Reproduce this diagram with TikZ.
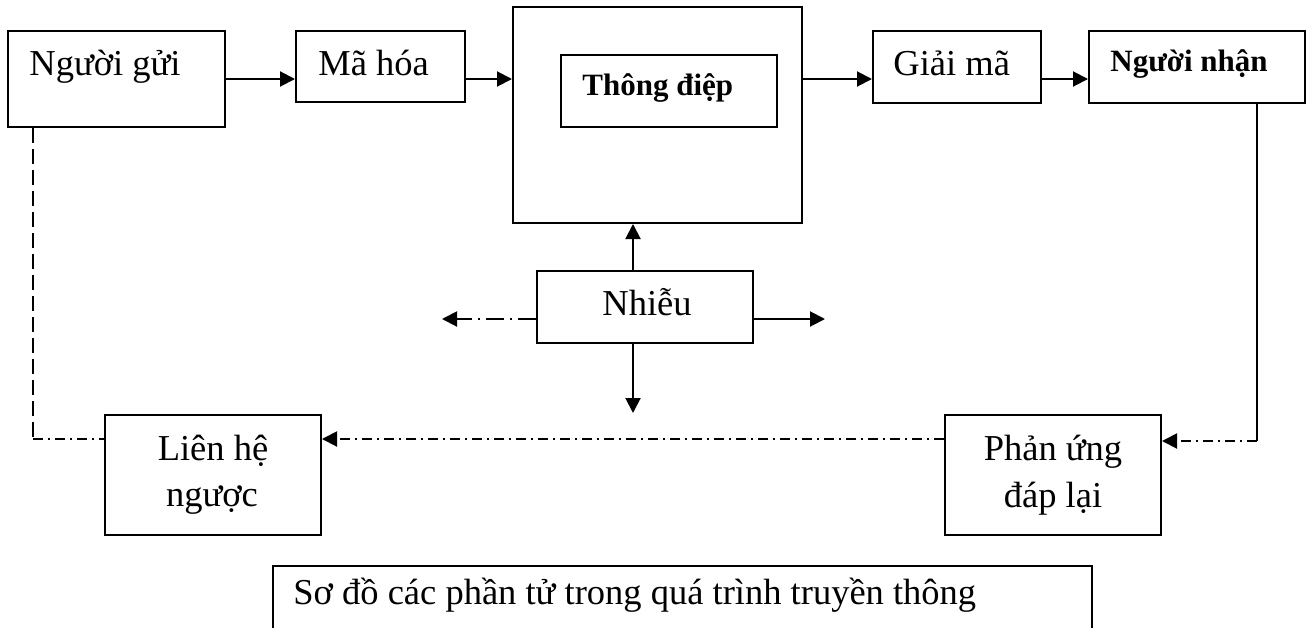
\documentclass[tikz,border=0pt]{standalone}
\usepackage{fontspec}
\setmainfont{Liberation Serif}
\usetikzlibrary{arrows.meta}

\begin{document}
\begin{tikzpicture}[x=0.5pt,y=-0.5pt,
  box/.style={draw, line width=1pt, rectangle, inner sep=0pt},
  txt/.style={inner sep=0pt, font=\fontsize{18.25}{22}\selectfont},
  btxt/.style={inner sep=0pt, font=\fontsize{15.5}{19}\selectfont\bfseries},
  link/.style={line width=1pt},
  arr/.style={link, -{Triangle[length=7.5pt,width=7.5pt]}},
  dashdot/.style={dash pattern=on 5pt off 2.5pt on 1pt off 2.5pt},
  longdashdot/.style={dash pattern=on 9pt off 3pt on 1pt off 3pt},
  longdash/.style={dash pattern=on 7.5pt off 3pt}
]
\useasboundingbox (0,0) rectangle (1310,627);
\clip (0,0) rectangle (1310,627);

% boxes
\node[box, minimum width=108.5pt, minimum height=48pt] (sender) at (116.5,79) {};
\node[box, minimum width=84.5pt, minimum height=35.5pt] (enc) at (380.5,66.5) {};
\node[box, minimum width=144.5pt, minimum height=108pt] (outer) at (657.5,115) {};
\node[box, minimum width=108pt, minimum height=36pt] (inner) at (669,91) {};
\node[box, minimum width=84pt, minimum height=36pt] (dec) at (957,67) {};
\node[box, minimum width=108pt, minimum height=36pt] (recv) at (1197,67) {};
\node[box, minimum width=108pt, minimum height=36pt] (noise) at (645,307) {};
\node[box, minimum width=108pt, minimum height=60pt] (fb) at (213,475) {};
\node[box, minimum width=108pt, minimum height=60pt] (resp) at (1053,475) {};
\node[box, minimum width=409.5pt, minimum height=50pt] (cap) at (682.5,616) {};

% labels
\node[txt, anchor=base west] (tsender) at (29,75) {Người gửi};
\node[txt, anchor=base west] (tenc) at (318,75) {Mã hóa};
\node[btxt, anchor=base west] (tmsg) at (582,95) {Thông điệp};
\node[txt, anchor=base west] (tdec) at (893,75) {Giải mã};
\node[btxt, anchor=base west] (trecv) at (1110,71) {Người nhận};
\node[txt, anchor=base west] (tnoise) at (602,315) {Nhiễu};
\node[txt, anchor=base] (tfb1) at (213,460) {Liên hệ};
\node[txt, anchor=base] (tfb2) at (212,506) {ngược};
\node[txt, anchor=base] (tresp1) at (1053,460) {Phản ứng};
\node[txt, anchor=base] (tresp2) at (1053,507) {đáp lại};
\node[txt, anchor=base west] (tcap) at (293,604) {Sơ đồ các phần tử trong quá trình truyền thông};

% helper coordinates
\coordinate (row) at (0,79);
\coordinate (nx) at (633,0);
\coordinate (ny) at (0,319);
\coordinate (ndown) at (633,413);
\coordinate (nleft) at (442,319);
\coordinate (nright) at (825,319);
\coordinate (lc) at (33,439);
\coordinate (rc) at (1257,441);

% main flow
\draw[arr] (sender.east |- row) -- (enc.west |- row);
\draw[arr] (enc.east |- row) -- (outer.west |- row);
\draw[arr] (outer.east |- row) -- (dec.west |- row);
\draw[arr] (dec.east |- row) -- (recv.west |- row);

% noise
\draw[arr] (noise.north -| nx) -- (outer.south -| nx);
\draw[arr] (noise.south -| nx) -- (ndown);
\draw[arr, longdashdot] (noise.west |- ny) -- (nleft);
\draw[arr] (noise.east |- ny) -- (nright);

% feedback loop
\draw[link] (recv.south -| rc) -- (rc);
\draw[arr, dashdot] (rc) -- (resp.east |- rc);
\draw[arr, dashdot] (resp.west |- lc) -- (fb.east |- lc);
\draw[link, longdash] (sender.south -| lc) -- (lc);
\draw[link, dashdot] (lc) -- (fb.west |- lc);
\end{tikzpicture}
\end{document}
